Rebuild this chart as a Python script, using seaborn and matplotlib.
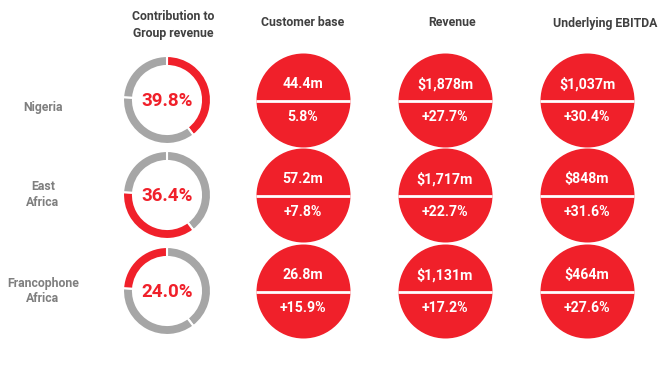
import matplotlib
matplotlib.use("Agg")
import matplotlib.pyplot as plt
import seaborn as sns
import pandas as pd

regions = ["Nigeria", "East\nAfrica", "Francophone\nAfrica"]
contribution = [39.8, 36.4, 24.0]
metrics = ["Customer base", "Revenue", "Underlying EBITDA"]
customer_base = ["44.4m", "57.2m", "26.8m"]
customer_growth = ["5.8%", "+7.8%", "+15.9%"]
revenue = ["$1,878m", "$1,717m", "$1,131m"]
revenue_growth = ["+27.7%", "+22.7%", "+17.2%"]
ebitda = ["$1,037m", "$848m", "$464m"]
ebitda_growth = ["+30.4%", "+31.6%", "+27.6%"]

RED = "#F0202A"
GRAY = "#A6A6A6"
HEAD = "#404040"
LAB = "#7F7F7F"
FONT = "Roboto"

sns.set_theme(style="white")
plt.rcParams["font.family"] = [FONT, "DejaVu Sans"]

W, H = 661, 373
fig = plt.figure(figsize=(W / 100, H / 100), dpi=100)
ax = fig.add_axes([0, 0, 1, 1])

row_y = [H - 100, H - 195, H - 291]
donut_x = 167
col_x = [303, 445, 587]
circle_r = 47

# donuts
for i, cy in enumerate(row_y):
    colors = [RED if j == i else GRAY for j in range(3)]
    ax.pie(contribution, colors=colors, center=(donut_x, cy), radius=44,
           startangle=90, counterclock=False, frame=False,
           wedgeprops=dict(width=10, edgecolor="white", linewidth=1.5))
    ax.text(donut_x, cy - 1, f"{contribution[i]:.1f}%", color=RED, fontsize=13.5,
            fontweight="bold", ha="center", va="center")
    ax.text(43, cy - 7 if i == 0 else cy, regions[i], color=LAB, fontsize=8.8,
            fontweight="bold", ha="center", va="center", linespacing=1.3)

# red circles via seaborn scatter
tops = [customer_base, revenue, ebitda]
bots = [customer_growth, revenue_growth, ebitda_growth]
recs = []
for c, m in enumerate(metrics):
    for r in range(3):
        recs.append(dict(metric=m, x=col_x[c], y=row_y[r], top=tops[c][r], bot=bots[c][r]))
df = pd.DataFrame(recs)
size = (2 * circle_r * 0.72) ** 2
sns.scatterplot(data=df, x="x", y="y", s=size, color=RED, linewidth=0, ax=ax, legend=False)
for _, row in df.iterrows():
    ax.plot([row.x - circle_r, row.x + circle_r], [row.y - 1, row.y - 1], color="white", lw=2, solid_capstyle="butt")
    ax.text(row.x, row.y + 16, row.top, color="white", fontsize=10.2, fontweight="bold",
            ha="center", va="center")
    ax.text(row.x, row.y - 17, row.bot, color="white", fontsize=10.2, fontweight="bold",
            ha="center", va="center")

# headers
ax.text(173, H - 25, "Contribution to\nGroup revenue", color=HEAD, fontsize=8.8,
        fontweight="bold", ha="center", va="center", linespacing=1.35)
ax.text(303, H - 23, "Customer base", color=HEAD, fontsize=8.8, fontweight="bold", ha="center", va="center")
ax.text(452, H - 22, "Revenue", color=HEAD, fontsize=8.8, fontweight="bold", ha="center", va="center")
ax.text(605, H - 23, "Underlying EBITDA", color=HEAD, fontsize=8.8, fontweight="bold", ha="center", va="center")

ax.set_xlim(0, W)
ax.set_ylim(0, H)
ax.set_aspect("equal")
ax.axis("off")
fig.savefig("out.png", dpi=100, facecolor="white")
